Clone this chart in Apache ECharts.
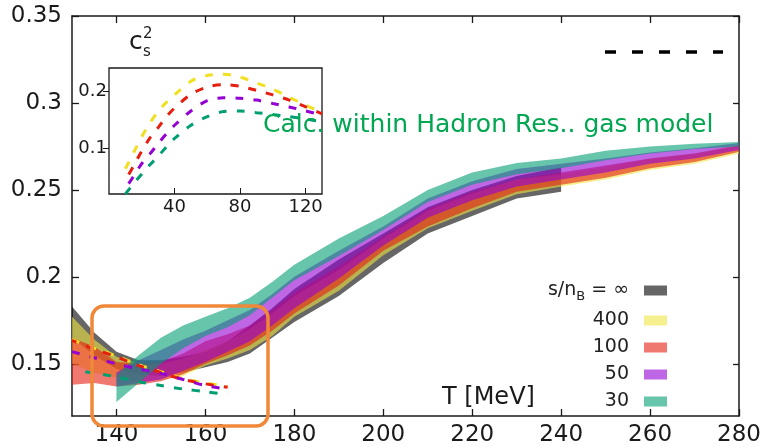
<!DOCTYPE html>
<html>
<head>
<meta charset="utf-8">
<script src="https://cdn.jsdelivr.net/npm/echarts@6/dist/echarts.min.js"></script>
<style>
  html, body { margin: 0; padding: 0; background: #fff; }
  #chart-container { width: 770px; height: 447px; }
</style>
</head>
<body>
<div id="chart-container"></div>
<script>
// ---- lattice bands (T in MeV, lower / upper edge of c_s^2) ----
var tInf = [130, 135, 140, 145, 150, 155, 160, 165, 170, 175, 180, 190, 200, 210, 220, 230, 240];
var infLo = [0.165, 0.155, 0.147, 0.144, 0.143, 0.145, 0.148, 0.151, 0.156, 0.165, 0.174, 0.189, 0.208, 0.225, 0.235, 0.245, 0.249];
var infHi = [0.183, 0.168, 0.157, 0.152, 0.152, 0.154, 0.157, 0.163, 0.172, 0.182, 0.193, 0.210, 0.225, 0.240, 0.250, 0.258, 0.263];

var tAll = [130, 135, 140, 145, 150, 155, 160, 165, 170, 175, 180, 190, 200, 210, 220, 230, 240, 250, 260, 270, 280];
var b400Lo = [0.150, 0.145, 0.142, 0.140, 0.141, 0.143, 0.149, 0.153, 0.158, 0.166, 0.177, 0.192, 0.2125, 0.228, 0.238, 0.2475, 0.252, 0.256, 0.2615, 0.265, 0.271];
var b400Hi = [0.177, 0.164, 0.154, 0.150, 0.150, 0.153, 0.158, 0.163, 0.170, 0.179, 0.189, 0.204, 0.222, 0.238, 0.248, 0.256, 0.259, 0.263, 0.268, 0.271, 0.276];
var b100Lo = [0.138, 0.139, 0.137, 0.138, 0.140, 0.144, 0.150, 0.155, 0.1605, 0.169, 0.179, 0.195, 0.215, 0.229, 0.2395, 0.249, 0.253, 0.257, 0.2625, 0.266, 0.272];
var b100Hi = [0.165, 0.160, 0.151, 0.150, 0.151, 0.156, 0.163, 0.167, 0.172, 0.181, 0.191, 0.206, 0.223, 0.239, 0.249, 0.256, 0.260, 0.264, 0.268, 0.271, 0.2755];

var tHigh = [140, 145, 150, 155, 160, 165, 170, 175, 180, 190, 200, 210, 220, 230, 240, 250, 260, 270, 280];
var b50Lo = [0.137, 0.139, 0.141, 0.146, 0.151, 0.157, 0.163, 0.172, 0.182, 0.199, 0.218, 0.234, 0.244, 0.252, 0.256, 0.260, 0.265, 0.268, 0.273];
var b50Hi = [0.145, 0.152, 0.158, 0.164, 0.169, 0.175, 0.181, 0.190, 0.200, 0.215, 0.229, 0.245, 0.255, 0.262, 0.265, 0.268, 0.2715, 0.274, 0.277];
var b30Lo = [0.128, 0.139, 0.150, 0.159, 0.166, 0.171, 0.178, 0.188, 0.198, 0.212, 0.227, 0.243, 0.253, 0.259, 0.2625, 0.267, 0.271, 0.2735, 0.275];
var b30Hi = [0.1436, 0.155, 0.165, 0.172, 0.177, 0.182, 0.188, 0.197, 0.207, 0.222, 0.235, 0.250, 0.260, 0.2655, 0.268, 0.2725, 0.275, 0.2765, 0.2775];

// ---- hadron resonance gas curves (dashed) ----
var tHrg = [130, 135, 140, 145, 150, 155, 160, 165];
var hrg400 = [0.164, 0.159, 0.1545, 0.1495, 0.1455, 0.1415, 0.139, 0.137];
var hrg100 = [0.1635, 0.1585, 0.154, 0.149, 0.145, 0.141, 0.1385, 0.1365];
var hrg50 = [0.157, 0.1535, 0.150, 0.147, 0.1445, 0.141, 0.1375, 0.1355];
var tHrg30 = [133, 140, 145, 150, 155, 160, 165];
var hrg30 = [0.1455, 0.1425, 0.1397, 0.1375, 0.1355, 0.134, 0.1322];

// ---- inset ----
var xIn = [10, 15, 20, 25, 30, 35, 40, 50, 60, 70, 80, 90, 100, 110, 120, 130];
var xInLate = [12, 15, 20, 25, 30, 35, 40, 50, 60, 70, 80, 90, 100, 110, 120, 130];
var in400 = [0.064, 0.092, 0.120, 0.144, 0.164, 0.180, 0.193, 0.217, 0.227, 0.229, 0.224, 0.214, 0.203, 0.189, 0.175, 0.163];
var in100 = [0.054, 0.069, 0.095, 0.118, 0.136, 0.155, 0.170, 0.194, 0.207, 0.211, 0.208, 0.201, 0.193, 0.184, 0.172, 0.160];
var in50 = [0.038, 0.051, 0.073, 0.090, 0.108, 0.125, 0.140, 0.165, 0.183, 0.188, 0.187, 0.184, 0.178, 0.172, 0.165, 0.158];
var in30 = [0.020, 0.038, 0.055, 0.071, 0.086, 0.102, 0.117, 0.140, 0.155, 0.164, 0.165, 0.162, 0.159, 0.155, 0.151, 0.146];

var xTicks = [140, 160, 180, 200, 220, 240, 260, 280];
var yTicks = [0.15, 0.2, 0.25, 0.3, 0.35];
var xInTicks = [40, 80, 120];
var yInTicks = [0.1, 0.2];

var legendNames = ['∞', '400', '100', '50', '30'];

var FONT = 'DejaVu Sans';
var dom = document.getElementById('chart-container');
var myChart = echarts.init(dom, null, { renderer: 'canvas' });

function band(name, ts, lo, hi, rgb) {
  var fill = 'rgba(' + rgb + ',0.6)';
  return {
    name: name,
    type: 'custom',
    xAxisIndex: 0,
    yAxisIndex: 0,
    silent: true,
    itemStyle: { color: fill },
    data: ts.map(function (t, i) { return [t, lo[i], hi[i]]; }),
    encode: { x: 0, y: [1, 2] },
    renderItem: function (params, api) {
      if (params.dataIndex !== 0) return null;
      var pts = ts.map(function (t, i) { return api.coord([t, hi[i]]); });
      for (var i = ts.length - 1; i >= 0; i--) pts.push(api.coord([ts[i], lo[i]]));
      return { type: 'polygon', shape: { points: pts }, style: { fill: fill } };
    }
  };
}

function dashed(xs, ys, color, xi, yi, offset) {
  return {
    type: 'line',
    xAxisIndex: xi,
    yAxisIndex: yi,
    silent: true,
    showSymbol: false,
    smooth: 0.3,
    z: 5,
    data: xs.map(function (x, i) { return [x, ys[i]]; }),
    lineStyle: { color: color, width: 3, type: [8, 10], dashOffset: offset || 0 }
  };
}

var axisLine = { show: true, lineStyle: { color: '#1a1a1a', width: 1.5 } };

var option = {
  animation: false,
  backgroundColor: '#fff',
  textStyle: { fontFamily: FONT },
  grid: [
    { left: 72, right: 31, top: 16, bottom: 30 },
    { left: 109, top: 68, width: 213, height: 126, show: true, backgroundColor: '#fff', borderColor: '#1a1a1a', borderWidth: 1.3 }
  ],
  legend: {
    orient: 'vertical',
    right: 98,
    top: 276,
    align: 'right',
    itemWidth: 23,
    itemHeight: 10,
    itemGap: 8,
    selectedMode: false,
    icon: 'rect',
    data: legendNames,
    textStyle: {
      fontFamily: FONT, fontSize: 19, color: '#222', padding: [0, 10, 0, 0],
      rich: {
        n: { fontFamily: FONT, fontSize: 19, color: '#222' },
        sub: { fontFamily: FONT, fontSize: 13, color: '#222', padding: [12, 0, 0, 0], verticalAlign: 'middle' }
      }
    },
    formatter: function (name) {
      return name === '∞' ? '{n|s/n}{sub|B}{n| = ∞}' : name;
    }
  },
  xAxis: [
    {
      type: 'value', gridIndex: 0, min: 130, max: 280, position: 'bottom',
      axisLine: axisLine, splitLine: { show: false },
      axisTick: { inside: true, length: 7, customValues: xTicks, lineStyle: { color: '#1a1a1a', width: 1.3 } },
      axisLabel: { customValues: xTicks, fontFamily: FONT, fontSize: 23, color: '#1a1a1a', margin: 8 }
    },
    {
      type: 'value', gridIndex: 0, min: 130, max: 280, position: 'top',
      axisLine: axisLine, splitLine: { show: false },
      axisTick: { inside: true, length: 7, customValues: xTicks, lineStyle: { color: '#1a1a1a', width: 1.3 } },
      axisLabel: { show: false }
    },
    {
      type: 'value', gridIndex: 1, min: 0, max: 130,
      axisLine: { show: false }, splitLine: { show: false },
      axisTick: { inside: true, length: 6, customValues: xInTicks, lineStyle: { color: '#1a1a1a' } },
      axisLabel: { customValues: xInTicks, fontFamily: FONT, fontSize: 18, color: '#1a1a1a', margin: 4 }
    }
  ],
  yAxis: [
    {
      type: 'value', gridIndex: 0, min: 0.12, max: 0.35, position: 'left',
      axisLine: axisLine, splitLine: { show: false },
      axisTick: { inside: true, length: 7, customValues: yTicks, lineStyle: { color: '#1a1a1a', width: 1.3 } },
      axisLabel: {
        customValues: yTicks, fontFamily: FONT, fontSize: 23, color: '#1a1a1a', margin: 10,
        formatter: function (v) { return String(+v.toFixed(2)); }
      }
    },
    {
      type: 'value', gridIndex: 0, min: 0.12, max: 0.35, position: 'right',
      axisLine: axisLine, splitLine: { show: false },
      axisTick: { inside: true, length: 6, customValues: yTicks, lineStyle: { color: '#1a1a1a', width: 1.3 } },
      axisLabel: { show: false }
    },
    {
      type: 'value', gridIndex: 1, min: 0.02, max: 0.24,
      axisLine: { show: false }, splitLine: { show: false },
      axisTick: { inside: false, length: 6, customValues: yInTicks, lineStyle: { color: '#1a1a1a' } },
      axisLabel: {
        customValues: yInTicks, fontFamily: FONT, fontSize: 18, color: '#1a1a1a', margin: 2,
        formatter: function (v) { return String(+v.toFixed(2)); }
      }
    }
  ],
  series: [
    band('∞', tInf, infLo, infHi, '0,0,0'),
    band('400', tAll, b400Lo, b400Hi, '240,228,66'),
    band('100', tAll, b100Lo, b100Hi, '229,30,16'),
    band('50', tHigh, b50Lo, b50Hi, '148,0,211'),
    band('30', tHigh, b30Lo, b30Hi, '0,158,115'),
    dashed(tHrg, hrg400, '#f0e020', 0, 0, 0),
    dashed(tHrg, hrg100, '#e51e10', 0, 0, 3),
    dashed(tHrg, hrg50, '#9400d3', 0, 0, 0),
    dashed(tHrg30, hrg30, '#009e73', 0, 0, 0),
    dashed(xIn, in400, '#f0e020', 2, 2, 0),
    dashed(xInLate, in100, '#e51e10', 2, 2, 0),
    dashed(xInLate, in50, '#9400d3', 2, 2, 0),
    dashed(xIn, in30, '#009e73', 2, 2, 0)
  ],
  graphic: [
    {
      type: 'rect', z: 50, silent: true,
      shape: { x: 92, y: 306, width: 176, height: 120, r: 12 },
      style: { fill: 'none', stroke: '#f0883a', lineWidth: 3.5 }
    },
    {
      type: 'line', z: 50, silent: true,
      shape: { x1: 605, y1: 52, x2: 723, y2: 52 },
      style: { stroke: '#000', lineWidth: 3.5, lineDash: [11, 16] }
    },
    {
      type: 'text', z: 60, silent: true, left: 263, top: 113,
      style: { text: 'Calc. within Hadron Res.. gas model', fill: '#00a651', font: '25px "DejaVu Sans"' }
    },
    {
      type: 'text', z: 60, silent: true, left: 442, top: 386,
      style: { text: 'T [MeV]', fill: '#1a1a1a', font: '24px "DejaVu Sans"' }
    },
    {
      type: 'text', z: 60, silent: true, left: 129, top: 30,
      style: { text: 'c', fill: '#1a1a1a', font: '25px "DejaVu Sans"' }
    },
    {
      type: 'text', z: 60, silent: true, left: 143, top: 45,
      style: { text: 's', fill: '#1a1a1a', font: '15px "DejaVu Sans"' }
    },
    {
      type: 'text', z: 60, silent: true, left: 143, top: 27,
      style: { text: '2', fill: '#1a1a1a', font: '15px "DejaVu Sans"' }
    }
  ]
};

if (option && typeof option === 'object') {
  myChart.setOption(option);
}
</script>
</body>
</html>
